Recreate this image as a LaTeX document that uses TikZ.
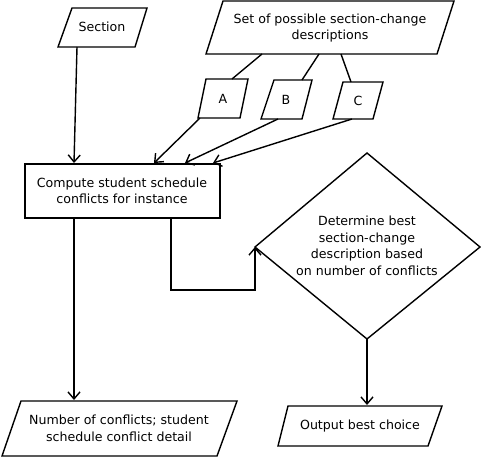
\documentclass[tikz,border=0pt]{standalone}
\usepackage{fontspec}
\setmainfont{DejaVu Sans}
\usetikzlibrary{arrows.meta}
\begin{document}
\begin{tikzpicture}[x=1pt,y=-1pt,
  shapeline/.style={line width=1.4pt, line join=miter},
  conn/.style={line width=1.4pt},
  arr/.style={conn, -{Straight Barb[length=7pt,width=12pt,line width=1.4pt]}},
  lbl/.style={font=\fontsize{12.6}{16.6}\selectfont, align=center, inner sep=0pt}]
\useasboundingbox (0,0) rectangle (481,457);
% shapes
\draw[shapeline] (72,8) -- (147,8) -- (135,47) -- (58,47) -- cycle;
\draw[shapeline] (223,1) -- (454,1) -- (437,54) -- (206,54) -- cycle;
\draw[shapeline] (206,79) -- (248,79) -- (240,118) -- (198,118) -- cycle;
\draw[shapeline] (274,80) -- (312,80) -- (302,119) -- (261,119) -- cycle;
\draw[shapeline] (343,82) -- (383,82) -- (373,119) -- (333,119) -- cycle;
\draw[shapeline] (25,164) rectangle (220,218);
\draw[shapeline] (367,153) -- (480,247) -- (367,339) -- (255,247) -- cycle;
\draw[shapeline] (21,401) -- (237,401) -- (217,456) -- (2,456) -- cycle;
\draw[shapeline] (288,406) -- (442,406) -- (428,446) -- (278,446) -- cycle;
% labels
\node[lbl] (sec) at (102,27) {Section};
\node[lbl] (set) at (330,28) {Set of possible section-change\\descriptions};
\node[lbl] (a) at (223,99) {A};
\node[lbl] (b) at (286,100) {B};
\node[lbl] (c) at (358,101) {C};
\node[lbl] (comp) at (122,191) {Compute student schedule\\conflicts for instance};
\node[lbl] (det) at (367,246) {Determine best\\section-change\\description based\\on number of conflicts};
\node[lbl] (num) at (119,428) {Number of conflicts; student\\schedule conflict detail};
\node[lbl] (out) at (360,426) {Output best choice};
% connection points
\coordinate (secB) at (77,47);
\coordinate (compT1) at (74,163);
\coordinate (setA) at (262,54); \coordinate (aT) at (232,79);
\coordinate (setB) at (319,54); \coordinate (bT) at (302,80);
\coordinate (setC) at (341,54); \coordinate (cT) at (351,82);
\coordinate (aB) at (200,118); \coordinate (compT2) at (154,163);
\coordinate (bB) at (278,119); \coordinate (compT3) at (185,163);
\coordinate (cB) at (352,119); \coordinate (compT4) at (213,163);
\coordinate (compB1) at (74,218); \coordinate (numT) at (74,400);
\coordinate (compB2) at (171,218); \coordinate (detL) at (255,247);
\coordinate (detB) at (367,339); \coordinate (outT) at (367,405);
% connectors
\draw[arr] (secB) -- (compT1);
\draw[conn] (setA) -- (aT);
\draw[conn] (setB) -- (bT);
\draw[conn] (setC) -- (cT);
\draw[arr] (aB) -- (compT2);
\draw[arr] (bB) -- (compT3);
\draw[arr] (cB) -- (compT4);
\draw[arr] (compB1) -- (numT);
\draw[arr] (compB2) |- (255,290) -- (detL);
\draw[arr] (detB) -- (outT);
\end{tikzpicture}
\end{document}
